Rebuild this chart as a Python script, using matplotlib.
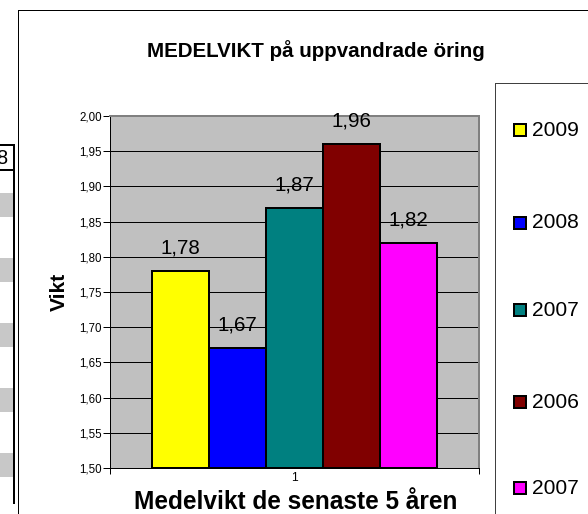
import numpy as np
import matplotlib.pyplot as plt
from matplotlib.patches import Rectangle
from matplotlib.lines import Line2D

plt.rcParams['font.family'] = ['Liberation Sans', 'DejaVu Sans']

years = ['2009', '2008', '2007', '2006', '2007']
vikt = [1.78, 1.67, 1.87, 1.96, 1.82]
colors = ['#FFFF00', '#0000FF', '#008080', '#800000', '#FF00FF']
yticks = np.arange(1.50, 2.001, 0.05)

W, H = 588, 514
fig = plt.figure(figsize=(W / 72, H / 72), dpi=72)

def fx(px):
    return px / W

def fy(py):
    return 1 - py / H

# partial table at the left edge
for y0 in [193, 258, 323, 388, 453]:
    fig.add_artist(Rectangle((0, fy(y0 + 24)), fx(13), 24 / H, transform=fig.transFigure,
                             facecolor='#C8C8C8', edgecolor='none'))
fig.add_artist(Line2D([0, fx(14)], [fy(145), fy(145)], transform=fig.transFigure, color='black', lw=2))
fig.add_artist(Line2D([0, fx(14)], [fy(170), fy(170)], transform=fig.transFigure, color='black', lw=2))
fig.add_artist(Line2D([fx(14), fx(14)], [fy(145), fy(503)], transform=fig.transFigure, color='black', lw=2))
fig.text(fx(7), fy(158), '8', ha='right', va='center', fontsize=20)

# chart border
fig.add_artist(Line2D([fx(18), fx(18)], [fy(10), 0], transform=fig.transFigure, color='black', lw=1))
fig.add_artist(Line2D([fx(18), 1], [fy(10), fy(10)], transform=fig.transFigure, color='black', lw=1))

ax = fig.add_axes([fx(110), fy(468), fx(479 - 110), (468 - 116) / H])
ax.set_facecolor('#C0C0C0')

bar_w = 0.154
pos = (np.arange(len(vikt)) - 2) * bar_w
bars = ax.bar(pos, np.array(vikt) - 1.5, bottom=1.5, width=bar_w, color=colors,
              edgecolor='black', linewidth=2, zorder=3)
for x, v in zip(pos, vikt):
    ax.annotate(f'{v:.2f}'.replace('.', ','), (x, v), xytext=(0, 23), textcoords='offset points',
                ha='center', va='center', fontsize=20.5, zorder=4)

ax.set_xlim(-0.5, 0.5)
ax.set_ylim(1.5, 2.0)
ax.set_yticks(yticks)
ax.set_yticklabels([f'{t:.2f}'.replace('.', ',') for t in yticks], fontsize=11.5)
ax.yaxis.grid(True, color='black', lw=1, zorder=1)
ax.set_axisbelow(True)
ax.tick_params(axis='y', direction='out', length=7, width=1, pad=1)

ax.set_xticks([-0.5, 0.5])
ax.set_xticklabels(['', ''])
ax.tick_params(axis='x', which='major', direction='out', length=6, width=1)
ax.set_xticks([0], minor=True)
ax.set_xticklabels(['1'], minor=True, fontsize=12)
ax.tick_params(axis='x', which='minor', length=0, pad=4)

for s in ['top', 'right']:
    ax.spines[s].set_color('#808080')
    ax.spines[s].set_linewidth(2)
for s in ['left', 'bottom']:
    ax.spines[s].set_color('black')
    ax.spines[s].set_linewidth(1)

fig.text(fx(316), fy(57), 'MEDELVIKT på uppvandrade öring', ha='center', va='baseline',
         fontsize=20.5, fontweight='bold')
fig.text(fx(59), fy(292), 'Vikt', rotation=90, ha='center', va='center', fontsize=21, fontweight='bold')
fig.text(fx(296), fy(509), 'Medelvikt de senaste 5 åren', ha='center', va='baseline',
         fontsize=24.5, fontweight='bold')

# legend box
fig.add_artist(Line2D([fx(495), fx(495)], [fy(83), 0], transform=fig.transFigure, color='#404040', lw=1))
fig.add_artist(Line2D([fx(495), 1], [fy(83), fy(83)], transform=fig.transFigure, color='#404040', lw=1))
leg_y = [130, 223, 310, 402, 488]
for yy, lab, c in zip(leg_y, years, colors):
    fig.add_artist(Rectangle((fx(514), fy(yy + 6)), fx(12), 12 / H, transform=fig.transFigure,
                             facecolor=c, edgecolor='black', lw=2))
    fig.text(fx(532), fy(yy), lab, ha='left', va='center', fontsize=21)

fig.savefig('out.png', dpi=72)
